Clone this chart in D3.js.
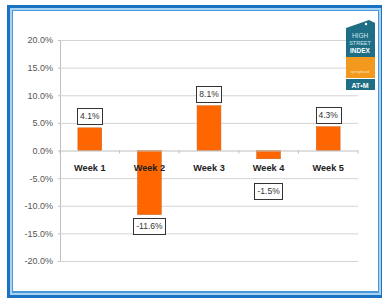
<!DOCTYPE html>
<html>
<head>
<meta charset="utf-8">
<script src="https://cdn.jsdelivr.net/npm/d3@7"></script>
<style>
  body { margin: 0; background: #fff; }
  svg { display: block; font-family: "Liberation Sans", Arial, sans-serif; }
</style>
</head>
<body>
<div id="chart"></div>
<script>
// data
var weeks = ["Week 1", "Week 2", "Week 3", "Week 4", "Week 5"];
var changes = [4.1, -11.6, 8.1, -1.5, 4.3];
var yTicks = [-20, -15, -10, -5, 0, 5, 10, 15, 20];

var W = 382, H = 299;
var plot = {left: 60, right: 358, top: 40, bottom: 261};

// plain hyphen for negatives, like excel
var pct = d3.formatLocale({decimal: ".", thousands: ",", grouping: [3], currency: ["", ""], minus: "-"}).format(".1f");
function fmt(d){ return pct(d) + "%"; }

var svg = d3.select("#chart").append("svg").attr("width", W).attr("height", H);

// blue frame
svg.append("rect").attr("x", 7).attr("y", 5).attr("width", 390).attr("height", 293).attr("fill", "#1b72c2");
svg.append("rect").attr("x", 10).attr("y", 8).attr("width", 371).attr("height", 287).attr("fill", "#a8d3f3");
svg.append("rect").attr("x", 12).attr("y", 10).attr("width", 367).attr("height", 283).attr("fill", "#4a97da");
svg.append("rect").attr("x", 13).attr("y", 11).attr("width", 365).attr("height", 280).attr("fill", "#ffffff");

var x = d3.scaleBand().domain(weeks).range([plot.left, plot.right]).paddingInner(0.6).paddingOuter(0.3);
var y = d3.scaleLinear().domain([-20, 20]).range([plot.bottom, plot.top]);

// gridlines + y labels
var yAxis = d3.axisLeft(y).tickValues(yTicks).tickSize(2).tickFormat(fmt);
var gy = svg.append("g").attr("transform", "translate(" + plot.left + ",0)").call(yAxis);
gy.select(".domain").attr("stroke", "#bfbfbf");
gy.selectAll(".tick line").attr("stroke", "#bfbfbf");
gy.selectAll(".tick text").attr("fill", "#555").attr("font-size", 9).attr("x", -7);

svg.append("g").selectAll("line").data(yTicks.filter(function(d){ return d != 0; }))
  .enter().append("line")
  .attr("x1", plot.left).attr("x2", plot.right)
  .attr("y1", function(d){ return y(d) + 0.5; }).attr("y2", function(d){ return y(d) + 0.5; })
  .attr("stroke", "#d4d4d4");

// bars
svg.append("g").selectAll("rect").data(changes).enter().append("rect")
  .attr("x", function(d, i){ return x(weeks[i]); })
  .attr("width", x.bandwidth())
  .attr("y", function(d){ return y(Math.max(0, d)); })
  .attr("height", function(d){ return Math.abs(y(d) - y(0)); })
  .attr("fill", "#ff6600")
  .attr("stroke", "#c0601f").attr("stroke-width", 0.5);

// zero axis with category ticks
var step = x.step();
svg.append("line").attr("x1", plot.left).attr("x2", plot.right)
  .attr("y1", y(0) + 0.5).attr("y2", y(0) + 0.5).attr("stroke", "#bfbfbf");
svg.append("g").selectAll("line").data(d3.range(weeks.length + 1)).enter().append("line")
  .attr("x1", function(i){ return plot.left + i * step; })
  .attr("x2", function(i){ return plot.left + i * step; })
  .attr("y1", y(0)).attr("y2", y(0) + 3).attr("stroke", "#bfbfbf");

// category labels
svg.append("g").selectAll("text").data(weeks).enter().append("text")
  .attr("x", function(d){ return x(d) + x.bandwidth() / 2; })
  .attr("y", y(0) + 20)
  .attr("text-anchor", "middle")
  .attr("font-size", 9.2).attr("font-weight", "bold").attr("fill", "#222")
  .text(function(d){ return d; });

// data labels in boxes
var lab = svg.append("g").selectAll("g").data(changes).enter().append("g");
lab.each(function(d, i){
  var g = d3.select(this);
  var t = g.append("text").attr("font-size", 8.5).attr("fill", "#333").attr("text-anchor", "middle")
    .text(fmt(d));
  var w = t.node().getComputedTextLength() + 6, h = 16;
  var cx = x(weeks[i]) + x.bandwidth() / 2;
  var top = d >= 0 ? y(d) - 4 - h : Math.max(y(d), y(0) + 29) + 3;
  g.insert("rect", "text").attr("x", Math.round(cx - w / 2) + 0.5).attr("y", Math.round(top) + 0.5)
    .attr("width", Math.round(w)).attr("height", h)
    .attr("fill", "#fff").attr("stroke", "#333").attr("stroke-width", 1);
  t.attr("x", cx).attr("y", top + h / 2 + 3.5);
});

// logo, top right
var logo = svg.append("g");
logo.append("path").attr("d", "M346,28 L369,20 L375,23 L375,57 L346,57 Z").attr("fill", "#1e6f86");
logo.append("circle").attr("cx", 366).attr("cy", 24).attr("r", 1.2).attr("fill", "#fff");
logo.append("rect").attr("x", 346).attr("y", 57).attr("width", 29).attr("height", 21).attr("fill", "#f39a1e");
logo.append("rect").attr("x", 346).attr("y", 79).attr("width", 29).attr("height", 11).attr("fill", "#1e6f86");
logo.append("text").attr("x", 360).attr("y", 38).attr("text-anchor", "middle").attr("fill", "#cfe6ee").attr("font-size", 6.5).text("HIGH");
logo.append("text").attr("x", 360).attr("y", 45).attr("text-anchor", "middle").attr("fill", "#cfe6ee").attr("font-size", 5.5).text("STREET");
logo.append("text").attr("x", 360).attr("y", 53).attr("text-anchor", "middle").attr("fill", "#fff").attr("font-size", 6.5).attr("font-weight", "bold").text("INDEX");
logo.append("text").attr("x", 360).attr("y", 73).attr("text-anchor", "middle").attr("fill", "#ffe6b8").attr("font-size", 3.5).text("springboard");
logo.append("text").attr("x", 360).attr("y", 87.5).attr("text-anchor", "middle").attr("fill", "#fff").attr("font-size", 7).attr("font-weight", "bold").text("AT•M");
</script>
</body>
</html>
